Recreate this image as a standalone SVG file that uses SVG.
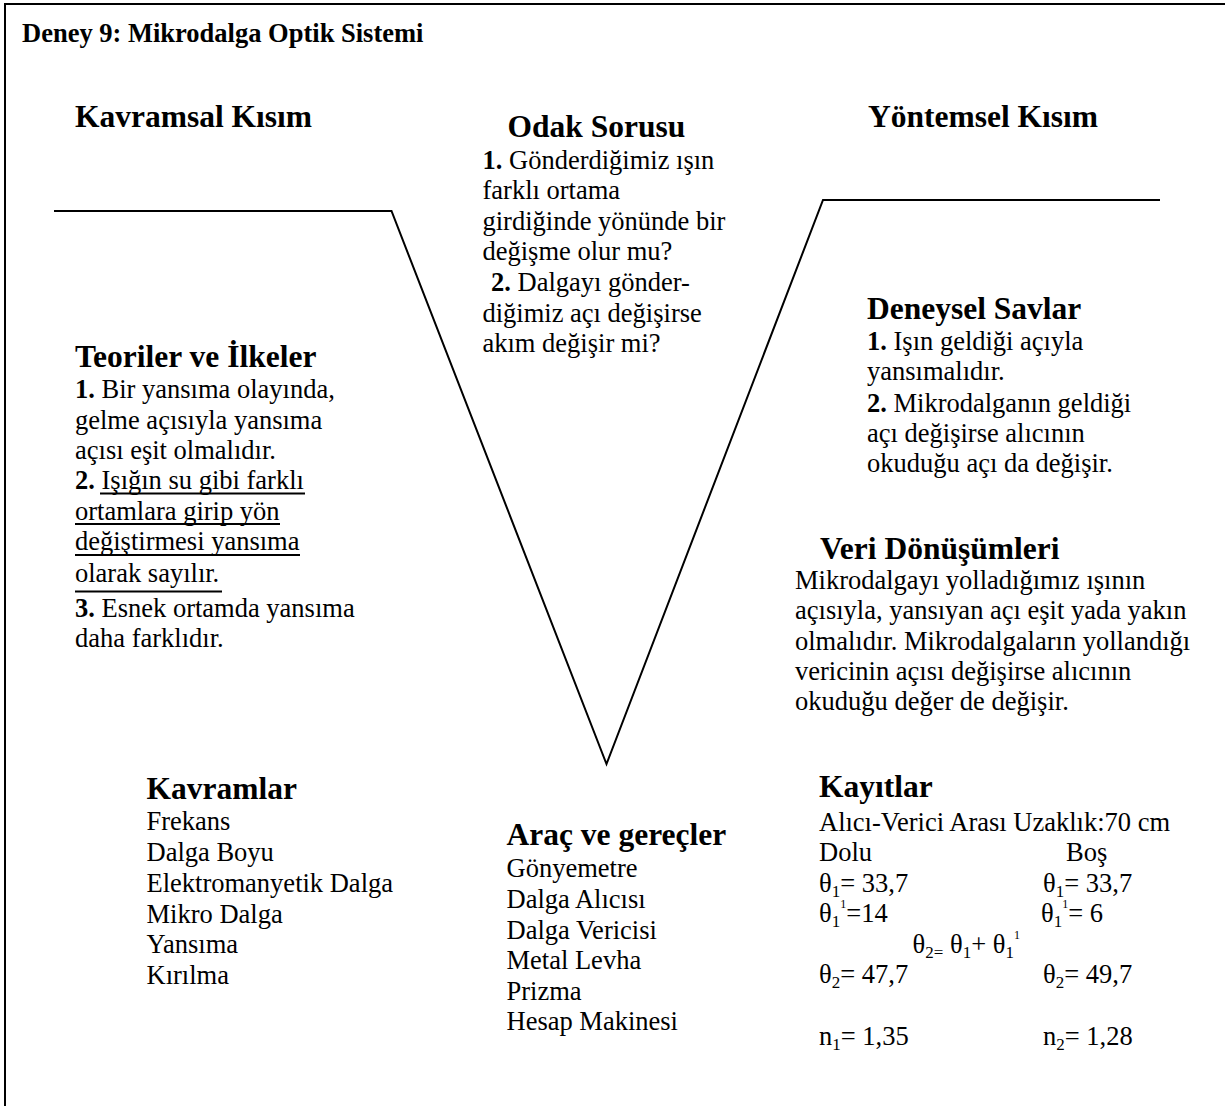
<svg xmlns="http://www.w3.org/2000/svg" width="1225" height="1106" viewBox="0 0 1225 1106">
<style>
text{font-family:"Liberation Serif","Times New Roman",serif;fill:#000;font-size:26.5px}
.h{font-weight:bold;font-size:31.5px}
.t{font-weight:bold;font-size:26.5px}
.b{font-weight:bold}
.sub{font-size:17px}
.sup{font-size:12px}
.ln{stroke:#000;stroke-width:2;fill:none}
.ul{stroke:#000;stroke-width:2}
</style>
<rect width="1225" height="1106" fill="#fff"/>
<g id="frame"><path class="ln" d="M5,1106 V4 H1225"/></g>
<g id="title"><text class="t" x="22" y="42">Deney 9: Mikrodalga Optik Sistemi</text></g>
<g id="connectors">
<path class="ln" d="M54,211 H391.5 L606.5,764 L823,200 H1160"/>
</g>
<g id="kavramsal"><text class="h" x="75" y="127">Kavramsal Kısım</text></g>
<g id="yontemsel"><text class="h" x="868" y="127">Yöntemsel Kısım</text></g>
<g id="odak">
<text class="h" x="507.5" y="137">Odak Sorusu</text>
<text x="482.5" y="168.5"><tspan class="b">1.</tspan> Gönderdiğimiz ışın</text>
<text x="482.5" y="199">farklı ortama</text>
<text x="482.5" y="229.5">girdiğinde yönünde bir</text>
<text x="482.5" y="260">değişme olur mu?</text>
<text x="491" y="291"><tspan class="b">2.</tspan> Dalgayı gönder-</text>
<text x="482.5" y="321.5">diğimiz açı değişirse</text>
<text x="482.5" y="352">akım değişir mi?</text>
</g>
<g id="teoriler">
<text class="h" x="75" y="366.5">Teoriler ve İlkeler</text>
<text x="75" y="398"><tspan class="b">1.</tspan> Bir yansıma olayında,</text>
<text x="75" y="428.5">gelme açısıyla yansıma</text>
<text x="75" y="458.5">açısı eşit olmalıdır.</text>
<text x="75" y="489"><tspan class="b">2.</tspan> Işığın su gibi farklı</text>
<text x="75" y="520">ortamlara girip yön</text>
<text x="75" y="550">değiştirmesi yansıma</text>
<text x="75" y="581.5">olarak sayılır.</text>
<text x="75" y="616.5"><tspan class="b">3.</tspan> Esnek ortamda yansıma</text>
<text x="75" y="647">daha farklıdır.</text>
<line class="ul" x1="100" y1="493.5" x2="305" y2="493.5"/>
<line class="ul" x1="75" y1="524" x2="280" y2="524"/>
<line class="ul" x1="75" y1="555" x2="300" y2="555"/>
<line class="ul" x1="75" y1="591.5" x2="222" y2="591.5"/>
</g>
<g id="deneysel">
<text class="h" x="867" y="318.5">Deneysel Savlar</text>
<text x="867" y="350"><tspan class="b">1.</tspan> Işın geldiği açıyla</text>
<text x="867" y="380">yansımalıdır.</text>
<text x="867" y="411.5"><tspan class="b">2.</tspan> Mikrodalganın geldiği</text>
<text x="867" y="441.5">açı değişirse alıcının</text>
<text x="867" y="471.5">okuduğu açı da değişir.</text>
</g>
<g id="veri">
<text class="h" x="820" y="558.5">Veri Dönüşümleri</text>
<text x="795" y="588.5">Mikrodalgayı yolladığımız ışının</text>
<text x="795" y="618.5">açısıyla, yansıyan açı eşit yada yakın</text>
<text x="795" y="650">olmalıdır. Mikrodalgaların yollandığı</text>
<text x="795" y="680">vericinin açısı değişirse alıcının</text>
<text x="795" y="710">okuduğu değer de değişir.</text>
</g>
<g id="kavramlar">
<text class="h" x="146.5" y="798.5">Kavramlar</text>
<text x="146.5" y="830">Frekans</text>
<text x="146.5" y="861">Dalga Boyu</text>
<text x="146.5" y="891.5">Elektromanyetik Dalga</text>
<text x="146.5" y="922.5">Mikro Dalga</text>
<text x="146.5" y="953">Yansıma</text>
<text x="146.5" y="984">Kırılma</text>
</g>
<g id="arac">
<text class="h" x="506.5" y="845">Araç ve gereçler</text>
<text x="506.5" y="876.5">Gönyemetre</text>
<text x="506.5" y="907.5">Dalga Alıcısı</text>
<text x="506.5" y="938.5">Dalga Vericisi</text>
<text x="506.5" y="969">Metal Levha</text>
<text x="506.5" y="999.5">Prizma</text>
<text x="506.5" y="1030">Hesap Makinesi</text>
</g>
<g id="kayitlar">
<text class="h" x="819" y="797">Kayıtlar</text>
<text x="819" y="830.5">Alıcı-Verici Arası Uzaklık:70 cm</text>
<text x="819" y="861">Dolu</text>
<text x="1066" y="861">Boş</text>
<text x="819" y="891.5">θ<tspan class="sub" dy="5">1</tspan><tspan dy="-5">= 33,7</tspan></text>
<text x="1043" y="891.5">θ<tspan class="sub" dy="5">1</tspan><tspan dy="-5">= 33,7</tspan></text>
<text x="819" y="921.5">θ<tspan class="sub" dy="5">1</tspan><tspan class="sup" dy="-19">1</tspan><tspan dy="14">=14</tspan></text>
<text x="1041" y="921.5">θ<tspan class="sub" dy="5">1</tspan><tspan class="sup" dy="-19">1</tspan><tspan dy="14">= 6</tspan></text>
<text x="912.5" y="952.5">θ<tspan class="sub" dy="5">2=</tspan><tspan dy="-5"> θ</tspan><tspan class="sub" dy="5">1</tspan><tspan dy="-5">+ θ</tspan><tspan class="sub" dy="5">1</tspan><tspan class="sup" dy="-19">1</tspan></text>
<text x="819" y="983">θ<tspan class="sub" dy="5">2</tspan><tspan dy="-5">= 47,7</tspan></text>
<text x="1043" y="983">θ<tspan class="sub" dy="5">2</tspan><tspan dy="-5">= 49,7</tspan></text>
<text x="819" y="1045">n<tspan class="sub" dy="5">1</tspan><tspan dy="-5">= 1,35</tspan></text>
<text x="1043" y="1045">n<tspan class="sub" dy="5">2</tspan><tspan dy="-5">= 1,28</tspan></text>
</g>
</svg>
